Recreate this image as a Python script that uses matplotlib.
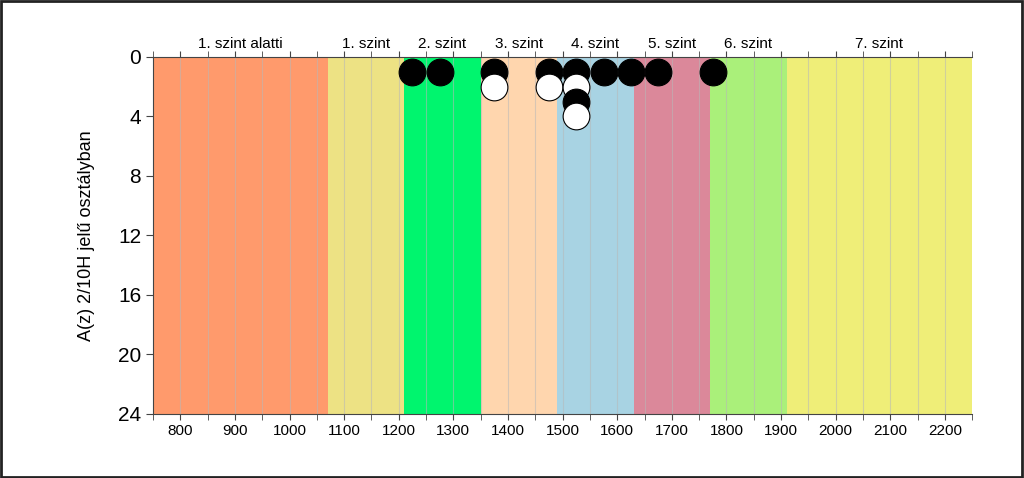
import matplotlib
matplotlib.use("Agg")
import matplotlib.pyplot as plt
import matplotlib.transforms as mtransforms
from matplotlib.patches import Rectangle

plt.rcParams['font.family'] = ['Liberation Sans', 'DejaVu Sans']

# Level bands (score ranges) and their labels
band_edges = [750, 1070, 1210, 1350, 1490, 1630, 1770, 1910, 2250]
band_labels = ["1. szint alatti", "1. szint", "2. szint", "3. szint",
               "4. szint", "5. szint", "6. szint", "7. szint"]
band_colors = ["#FF9A6C", "#EDE284", "#00F56E", "#FFD6AE",
               "#A8D3E3", "#DB889A", "#AAF07A", "#EFEE78"]

# Students per score bin (bin centres)
bin_centers = [1225, 1275, 1375, 1475, 1525, 1575, 1625, 1675, 1775]
bin_counts = [1, 1, 2, 2, 4, 1, 1, 1, 1]

x_ticks = [800, 900, 1000, 1100, 1200, 1300, 1400, 1500, 1600, 1700,
           1800, 1900, 2000, 2100, 2200]
y_ticks = [0, 4, 8, 12, 16, 20, 24]

fig = plt.figure(figsize=(10.24, 4.78), dpi=100)
ax = fig.add_axes([0.1494, 0.134, 0.8, 0.747])

trans = mtransforms.blended_transform_factory(ax.transData, ax.transAxes)
for i, lab in enumerate(band_labels):
    lo, hi = band_edges[i], band_edges[i + 1]
    ax.axvspan(lo, hi, color=band_colors[i], lw=0, zorder=0)
    ax.text((lo + hi) / 2, 1.017, lab, transform=trans, ha="center",
            va="bottom", fontsize=11)

# light vertical grid every 50
for gx in range(800, 2250, 50):
    ax.axvline(gx, color="#b8b8b8", lw=0.8, alpha=0.55, zorder=1)

# stacked dots, alternating black / white
for xc, n in zip(bin_centers, bin_counts):
    for k in range(n):
        fc = "black" if k % 2 == 0 else "white"
        ax.scatter(xc, k + 1, s=370, facecolor=fc, edgecolor="black",
                   linewidth=0.8, zorder=3 + k)

ax.set_xlim(band_edges[0], band_edges[-1])
ax.set_ylim(24, 0)
ax.set_xticks(x_ticks)
ax.set_xticks(range(750, 2251, 50), minor=True)
ax.set_yticks(y_ticks)
ax.tick_params(axis="x", which="both", top=True, direction="out",
               labelsize=11, length=4, color="#444444")
ax.tick_params(axis="y", labelsize=15, length=5, color="#444444")
ax.set_ylabel("A(z) 2/10H jelű osztályban", fontsize=13)
ax.yaxis.set_label_coords(-0.071, 0.5)

for side in ["top", "bottom", "left"]:
    ax.spines[side].set_color("#444444")
ax.spines["right"].set_visible(False)

# frame around the whole figure
fig.add_artist(Rectangle((0.001, 0.002), 0.997, 0.995, transform=fig.transFigure,
                         fill=False, edgecolor="#222222", lw=2))

fig.savefig("out.png", dpi=100)
